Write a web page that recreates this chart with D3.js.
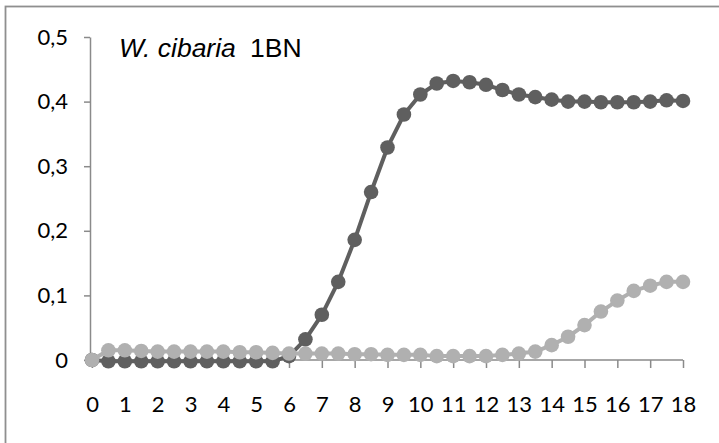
<!DOCTYPE html>
<html>
<head>
<meta charset="utf-8">
<script src="https://cdn.jsdelivr.net/npm/d3@7"></script>
<style>
  html, body { margin: 0; padding: 0; background: #fff; }
  svg { display: block; }
</style>
</head>
<body>
<svg id="chart" width="719" height="443"></svg>
<script>
// Sampling times (h), every half hour from 0 to 18
const times = d3.range(0, 18.0001, 0.5);

// Optical density, dark series
const odDark = [
  0, -0.002, -0.002, -0.002, -0.002, -0.002, -0.002, -0.002, -0.002, -0.002, -0.002, -0.002,
  0.006, 0.032, 0.070, 0.121, 0.186, 0.260, 0.329, 0.380, 0.411, 0.428, 0.432, 0.430,
  0.426, 0.418, 0.411, 0.407, 0.403, 0.400, 0.400, 0.399, 0.399, 0.399, 0.400, 0.402, 0.401
];

// Optical density, light series
const odLight = [
  0, 0.015, 0.015, 0.014, 0.013, 0.013, 0.013, 0.013, 0.013, 0.012, 0.012, 0.011,
  0.010, 0.010, 0.010, 0.010, 0.009, 0.009, 0.008, 0.008, 0.008, 0.006, 0.006, 0.006,
  0.006, 0.008, 0.010, 0.013, 0.023, 0.036, 0.054, 0.075, 0.092, 0.107, 0.115, 0.121, 0.121
];

const xTicks = d3.range(0, 19, 1);
const yTicks = [0, 0.1, 0.2, 0.3, 0.4, 0.5];
const yTickLabels = ["0", "0,1", "0,2", "0,3", "0,4", "0,5"];

const svg = d3.select("#chart");
const W = 719, H = 443;

// outer chart frame
svg.append("rect")
  .attr("x", 5.5).attr("y", 6.5)
  .attr("width", W + 10).attr("height", H + 10)
  .attr("fill", "#fff")
  .attr("stroke", "#8f8f8f")
  .attr("stroke-width", 1.8);

const x = d3.scaleLinear().domain([0, 18]).range([92, 683]);
const y = d3.scaleLinear().domain([0, 0.5]).range([360, 37]);

const axisColor = "#8a8a8a";
const tickFont = "Lato, 'Open Sans', sans-serif";
const tickSize = "22px";

// y axis
const yAxis = svg.append("g")
  .attr("transform", "translate(90,0)")
  .call(d3.axisLeft(y).tickValues(yTicks)
    .tickFormat((d, i) => yTickLabels[i])
    .tickSize(6).tickSizeOuter(0).tickPadding(16));
yAxis.select(".domain").attr("stroke", axisColor).attr("stroke-width", 1.5);
yAxis.selectAll(".tick line").attr("stroke", axisColor).attr("stroke-width", 1.5);
yAxis.selectAll(".tick text")
  .attr("fill", "#000")
  .style("font-family", tickFont)
  .style("font-size", tickSize);

// x axis
const xAxis = svg.append("g")
  .attr("transform", `translate(0,${y(0)})`)
  .call(d3.axisBottom(x).tickValues(xTicks)
    .tickFormat(d3.format("d"))
    .tickSize(8).tickSizeOuter(0).tickPadding(28));
xAxis.select(".domain")
  .attr("d", `M90,0H${x(18)}`)
  .attr("stroke", axisColor).attr("stroke-width", 1.5);
xAxis.selectAll(".tick line").attr("stroke", axisColor).attr("stroke-width", 1.5);
xAxis.selectAll(".tick text")
  .attr("fill", "#000")
  .style("font-family", tickFont)
  .style("font-size", tickSize);

// series: dark first, light drawn on top
const series = [
  { values: odDark, color: "#5f5f5f" },
  { values: odLight, color: "#b0b0b0" }
];

const line = d3.line()
  .x((d, i) => x(times[i]))
  .y(d => y(d));

series.forEach(s => {
  const g = svg.append("g");
  g.append("path")
    .datum(s.values)
    .attr("d", line)
    .attr("fill", "none")
    .attr("stroke", s.color)
    .attr("stroke-width", 4)
    .attr("stroke-linejoin", "round");
  g.selectAll("circle")
    .data(s.values)
    .join("circle")
    .attr("cx", (d, i) => x(times[i]))
    .attr("cy", d => y(d))
    .attr("r", 7.3)
    .attr("fill", s.color);
});

// strain label
const label = svg.append("text")
  .attr("x", 119).attr("y", 57)
  .style("font-family", "'Liberation Sans', Arial, sans-serif")
  .style("font-size", "26.5px")
  .attr("fill", "#000");
label.append("tspan").style("font-style", "italic").text("W. cibaria");
label.append("tspan").attr("x", 250).text("1BN");
</script>
</body>
</html>
